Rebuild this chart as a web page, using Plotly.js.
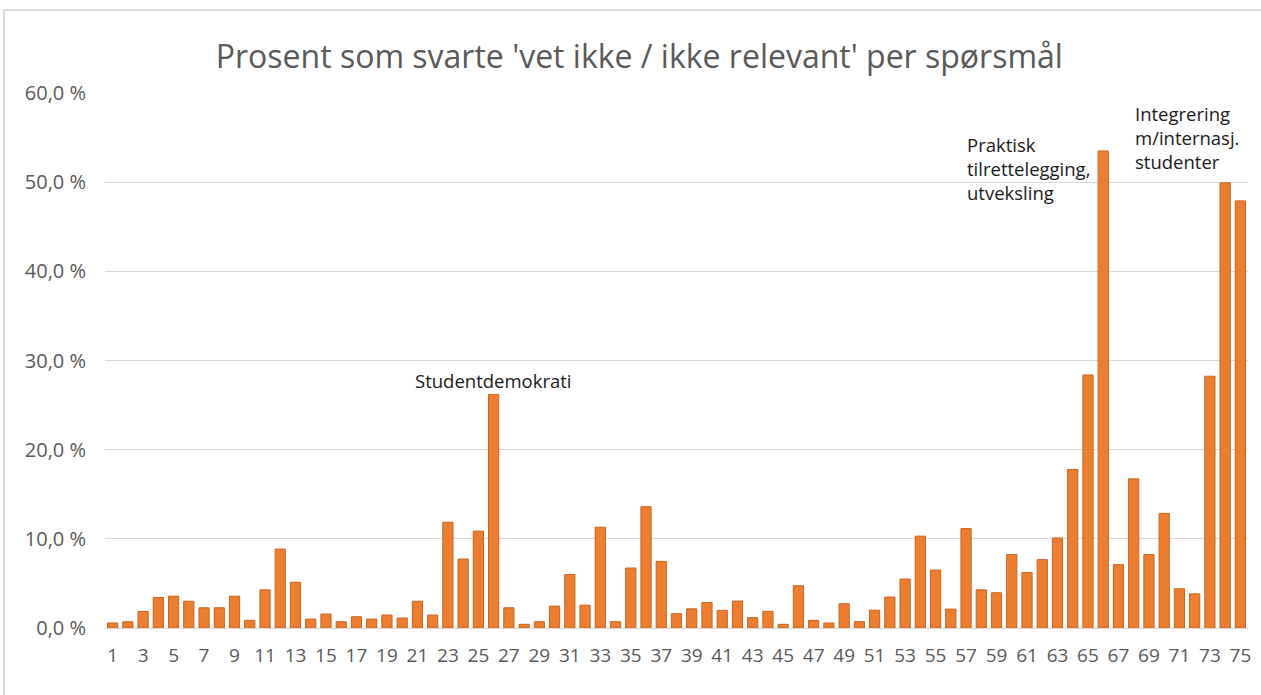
<!DOCTYPE html>
<html><head><meta charset="utf-8">
<script src="https://cdn.plot.ly/plotly-3.0.1.min.js"></script>
<style>
html,body{margin:0;padding:0;background:#fff;}
#frame{position:absolute;left:3px;top:9px;width:1400px;height:800px;border:2px solid #d9d9d9;box-sizing:border-box;}
#chart{position:absolute;left:0;top:0;width:1261px;height:695px;}
</style></head>
<body>
<div id="frame"></div>
<div id="chart"></div>
<script>
const questions = Array.from({length:75},(_,i)=>i+1);
const percentDontKnow = [
 0.56,0.7,1.86,3.42,3.57,3.0,2.27,2.27,3.57,0.86,
 4.28,8.85,5.13,1.0,1.56,0.7,1.26,1.0,1.45,1.12,
 3.0,1.45,11.86,7.73,10.86,26.2,2.27,0.41,0.7,2.45,
 6.0,2.56,11.3,0.7,6.73,13.6,7.47,1.6,2.15,2.87,
 1.98,3.02,1.16,1.87,0.41,4.74,0.86,0.56,2.72,0.71,
 2.0,3.47,5.49,10.3,6.49,2.12,11.15,4.28,3.95,8.24,
 6.23,7.67,10.1,17.78,28.37,53.5,7.1,16.73,8.24,12.85,
 4.4,3.83,28.24,49.93,47.9
];
const titleText = "Prosent som svarte 'vet ikke / ikke relevant' per spørsmål";
const noteLabels = ["Studentdemokrati","Praktisk<br>tilrettelegging,<br>utveksling","Integrering<br>m/internasj.<br>studenter"];
const noteQuestion = [26,56.9,67.95];
const noteValue = [29.4,55.9,59.3];

const trace = {
  type:'bar', x:questions, y:percentDontKnow,
  marker:{color:'#ED7D31', line:{color:'#C8651F', width:1}},
  hoverinfo:'x+y'
};
const annotations = noteLabels.map((t,i)=>({
  x: noteQuestion[i], y: noteValue[i], xref:'x', yref:'y',
  text:t, showarrow:false, align:'left',
  xanchor: i===0 ? 'center' : 'left', yanchor:'top',
  font:{family:'Open Sans, Noto Sans, sans-serif', size:18.5, color:'#1a1a1a'}
}));
const layout = {
  width:1261, height:695,
  margin:{l:105, r:13, t:93, b:67},
  paper_bgcolor:'rgba(0,0,0,0)', plot_bgcolor:'rgba(0,0,0,0)',
  separators:', ',
  title:{text:titleText, x:0.507, xanchor:'center', y:0.918, yanchor:'middle',
    font:{family:'Open Sans, Noto Sans, sans-serif', size:32, color:'#595959'}},
  bargap:0.33,
  showlegend:false,
  xaxis:{type:'linear', range:[0.5,75.5], tick0:1, dtick:2, showgrid:false, zeroline:false,
    showline:false, ticks:'', ticklen:0, ticklabelstandoff:14,
    tickfont:{family:'Open Sans, Noto Sans, sans-serif', size:19, color:'#595959'}},
  yaxis:{range:[0,60], dtick:10, tickformat:'.1f', ticksuffix:' %',
    showgrid:true, gridcolor:'#d9d9d9', gridwidth:1, zeroline:true, zerolinecolor:'#d9d9d9', zerolinewidth:1,
    showline:false, ticks:'', ticklabelstandoff:18,
    tickfont:{family:'Open Sans, Noto Sans, sans-serif', size:20, color:'#595959'}},
  annotations: annotations
};
Plotly.newPlot('chart',[trace],layout,{displayModeBar:false, staticPlot:true});
</script>
</body></html>
